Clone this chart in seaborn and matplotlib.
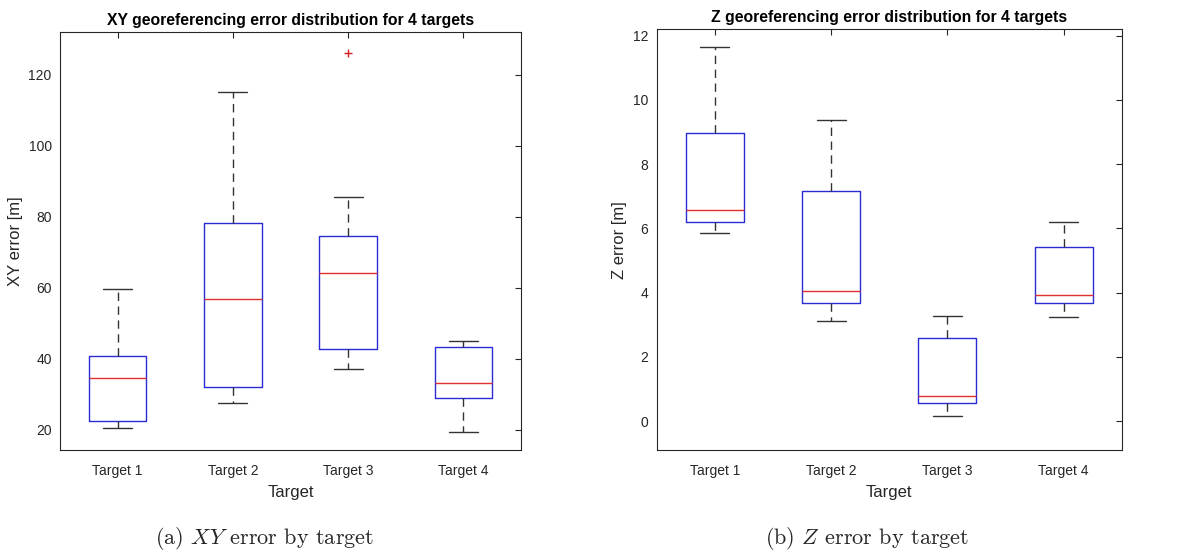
import pandas as pd
import numpy as np
import matplotlib.pyplot as plt
import seaborn as sns

# values (min, q1, median, q3, max per target)
targets = ['Target 1', 'Target 2', 'Target 3', 'Target 4']
xy_t1 = [20.4, 22.6, 34.5, 40.7, 59.6]
xy_t2 = [27.6, 32.1, 56.9, 78.3, 115.1]
xy_t3 = [37.0, 40.0, 42.9, 55.0, 64.2, 70.0, 74.5, 85.5, 126.3]
xy_t4 = [19.5, 29.0, 33.2, 43.3, 44.9]
z_t1 = [5.86, 6.19, 6.58, 8.97, 11.65]
z_t2 = [3.12, 3.68, 4.06, 7.15, 9.39]
z_t3 = [0.17, 0.56, 0.77, 2.59, 3.26]
z_t4 = [3.23, 3.68, 3.92, 5.42, 6.19]


def long_frame(series):
    rows = []
    for name, vals in zip(targets, series):
        for v in vals:
            rows.append((name, v))
    return pd.DataFrame(rows, columns=['Target', 'error'])


xy_df = long_frame([xy_t1, xy_t2, xy_t3, xy_t4])
z_df = long_frame([z_t1, z_t2, z_t3, z_t4])

sns.set_style('white')
plt.rcParams['font.family'] = ['Liberation Sans', 'DejaVu Sans']
plt.rcParams['mathtext.fontset'] = 'cm'

fig = plt.figure(figsize=(11.98, 5.51), dpi=100)
ax1 = fig.add_axes([0.0501, 0.1833, 0.3848, 0.7592])
ax2 = fig.add_axes([0.5482, 0.1833, 0.3881, 0.7635])

box_kws = dict(
    width=0.5, whis=1.5, fill=False, linewidth=1,
    boxprops=dict(color='#2b2bd6'),
    medianprops=dict(color='#e03030'),
    whiskerprops=dict(color='#333333', linestyle=(0, (6, 4))),
    capprops=dict(color='#333333'),
    flierprops=dict(marker='+', markeredgecolor='#d62020', markersize=6),
)

sns.boxplot(data=xy_df, x='Target', y='error', ax=ax1, **box_kws)
sns.boxplot(data=z_df, x='Target', y='error', ax=ax2, **box_kws)

ax1.set_ylim(14.3, 132.2)
ax1.set_yticks([20, 40, 60, 80, 100, 120])
ax2.set_ylim(-0.9, 12.2)
ax2.set_yticks([0, 2, 4, 6, 8, 10, 12])

for ax, title, ylab in [
    (ax1, 'XY georeferencing error distribution for 4 targets', 'XY error [m]'),
    (ax2, 'Z georeferencing error distribution for 4 targets', 'Z error [m]'),
]:
    ax.set_xlim(-0.5, 3.5)
    ax.set_title(title, fontsize=11.3, fontweight='bold', color='black', pad=5)
    ax.set_ylabel(ylab, fontsize=12, color='#262626', labelpad=4)
    ax.set_xlabel('Target', fontsize=12, color='#262626', labelpad=5)
    ax.tick_params(direction='in', top=True, right=True, length=4,
                   width=0.8, colors='#262626', labelsize=10)
    ax.tick_params(axis='x', pad=10)
    ax.tick_params(axis='y', pad=6)
    for s in ax.spines.values():
        s.set_color('#262626')
        s.set_linewidth(0.8)

fig.text(265 / 1198, 1 - 538 / 551, r'(a) $XY$ error by target',
         family='cmr10', fontsize=16, ha='center', va='center')
fig.text(867 / 1198, 1 - 538 / 551, r'(b) $Z$ error by target',
         family='cmr10', fontsize=16, ha='center', va='center')

fig.savefig('out.png', dpi=100)
